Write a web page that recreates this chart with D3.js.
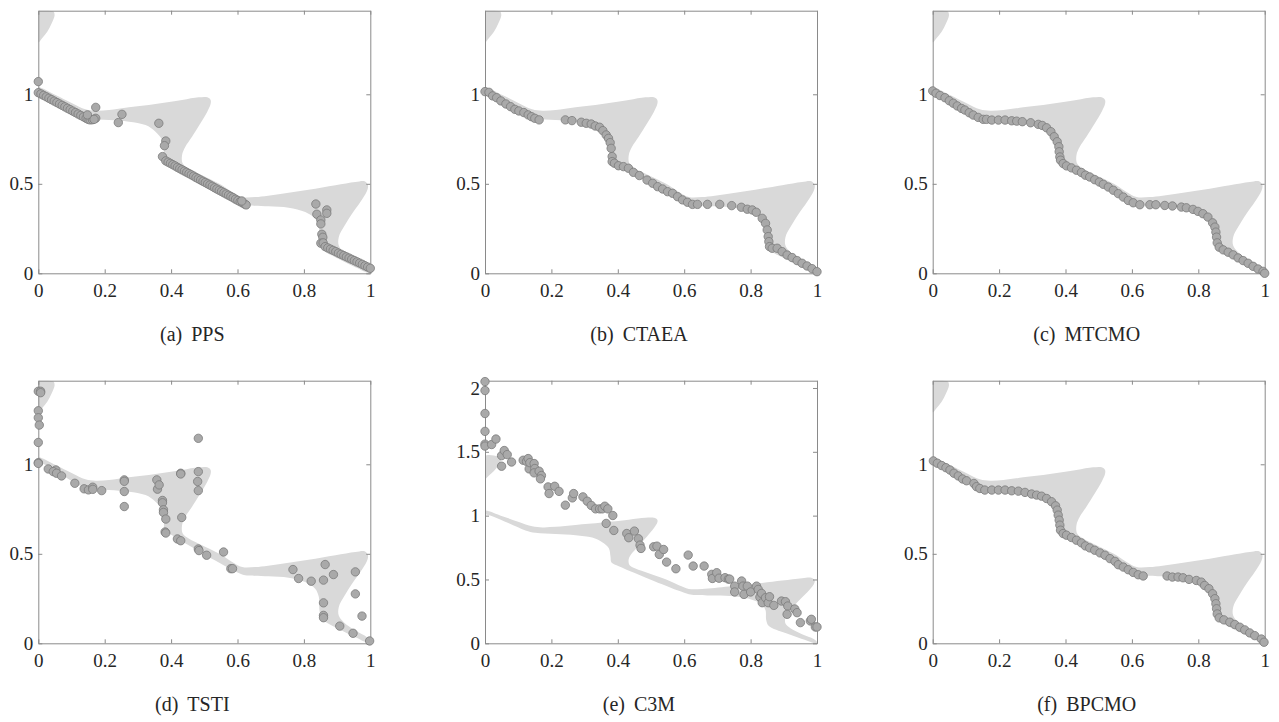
<!DOCTYPE html>
<meta charset="utf-8">
<style>
body { margin: 0; background: #fff; }
svg text { font-family: "Liberation Serif", "Times New Roman", Times, Tinos, "DejaVu Serif", serif; fill: #262626; }
.axis path, .axis line { stroke: #8a8a8a; stroke-width: 1px; }
.region { fill: #d9d9d9; stroke: none; }
.pts circle { fill: #a9a9a9; stroke: #7b7b7b; stroke-width: 0.8px; }
.caption { font-size: 20px; }
</style>
<svg width="1279" height="722"></svg>
<script src="https://d3js.org/d3.v7.min.js"></script>
<script>

// feasible region (same problem in every panel)
var regionMain = [
  [0, 1.039], [0.052, 0.996], [0.102, 0.950], [0.142, 0.916], [0.173, 0.908], [0.213, 0.912],
  [0.273, 0.927], [0.353, 0.946], [0.433, 0.968], [0.483, 0.983], [0.509, 0.983], [0.519, 0.968],
  [0.519, 0.946], [0.509, 0.903], [0.488, 0.837], [0.463, 0.763], [0.443, 0.707], [0.433, 0.660],
  [0.435, 0.613], [0.453, 0.585], [0.493, 0.548], [0.544, 0.501], [0.584, 0.454], [0.614, 0.426],
  [0.654, 0.426], [0.734, 0.445], [0.814, 0.467], [0.895, 0.492], [0.955, 0.510], [0.983, 0.514],
  [0.993, 0.492], [0.990, 0.460], [0.970, 0.398], [0.945, 0.333], [0.920, 0.258], [0.905, 0.202],
  [0.905, 0.155], [0.920, 0.118], [0.955, 0.071], [0.990, 0.034], [1.0, 0.011],
  [1.0, 0.0], [0.955, 0.034], [0.905, 0.080], [0.855, 0.136], [0.847, 0.183], [0.845, 0.258],
  [0.834, 0.305], [0.804, 0.342], [0.754, 0.366], [0.694, 0.374], [0.634, 0.379], [0.614, 0.385],
  [0.584, 0.411], [0.514, 0.482], [0.453, 0.548], [0.403, 0.604], [0.381, 0.632], [0.378, 0.679],
  [0.373, 0.744], [0.353, 0.791], [0.323, 0.828], [0.273, 0.847], [0.213, 0.856], [0.152, 0.865],
  [0.122, 0.884], [0.072, 0.940], [0.022, 0.996], [0, 1.015]
];
var regionCorner = [
  [0, 1.29], [0.012, 1.315], [0.027, 1.35], [0.040, 1.395], [0.049, 1.44], [0.046, 1.462],
  [0.038, 1.467], [0, 1.467]
];

var labels = ["(a)", "(b)", "(c)", "(d)", "(e)", "(f)"];
var algorithms = ["PPS", "CTAEA", "MTCMO", "TSTI", "C3M", "BPCMO"];
var yMax = [1.467, 1.467, 1.467, 1.467, 2.057, 1.467];
var xTicks = [0, 0.2, 0.4, 0.6, 0.8, 1];
var yTicks = [0, 0.5, 1];
var yTicksC3M = [0, 0.5, 1, 1.5, 2];

var ppsPts = [
  [0, 1.071], [0, 1.009], [0.008, 1.002], [0.016, 0.994], [0.024, 0.986], [0.032, 0.978],
  [0.040, 0.970], [0.048, 0.962], [0.056, 0.954], [0.064, 0.946], [0.072, 0.938], [0.080, 0.930],
  [0.088, 0.922], [0.096, 0.914], [0.104, 0.906], [0.112, 0.898], [0.120, 0.890], [0.128, 0.882],
  [0.136, 0.874], [0.144, 0.866], [0.150, 0.860], [0.156, 0.857], [0.163, 0.858],
  [0.148, 0.885], [0.173, 0.927], [0.173, 0.866], [0.168, 0.860],
  [0.241, 0.842], [0.252, 0.888], [0.363, 0.838], [0.384, 0.739], [0.380, 0.713], [0.374, 0.652],
  [0.384, 0.628], [0.391, 0.621], [0.398, 0.614], [0.405, 0.607], [0.412, 0.600], [0.419, 0.592],
  [0.426, 0.585], [0.433, 0.578], [0.440, 0.571], [0.447, 0.564], [0.454, 0.557], [0.461, 0.550],
  [0.468, 0.543], [0.475, 0.535], [0.482, 0.528], [0.489, 0.521], [0.496, 0.514], [0.503, 0.507],
  [0.510, 0.500], [0.517, 0.493], [0.524, 0.486], [0.531, 0.478], [0.538, 0.471], [0.545, 0.464],
  [0.552, 0.457], [0.559, 0.450], [0.566, 0.443], [0.573, 0.436], [0.580, 0.429], [0.587, 0.422],
  [0.594, 0.414], [0.601, 0.407], [0.608, 0.400], [0.615, 0.393], [0.622, 0.386], [0.626, 0.382],
  [0.613, 0.404],
  [0.836, 0.387], [0.839, 0.330], [0.851, 0.298], [0.851, 0.276], [0.869, 0.354], [0.869, 0.335],
  [0.854, 0.218], [0.857, 0.201], [0.851, 0.168], [0.858, 0.170], [0.864, 0.149],
  [0.872, 0.142], [0.880, 0.135], [0.888, 0.128], [0.896, 0.121], [0.904, 0.113], [0.912, 0.106],
  [0.920, 0.099], [0.928, 0.092], [0.936, 0.085], [0.944, 0.078], [0.952, 0.071], [0.960, 0.064],
  [0.968, 0.057], [0.976, 0.050], [0.984, 0.042], [0.992, 0.035], [1.0, 0.028]
];

var ctaeaPts = [
  [0, 1.015], [0.012, 1.011], [0.023, 0.991], [0.035, 0.981], [0.048, 0.963], [0.063, 0.946],
  [0.077, 0.931], [0.090, 0.916], [0.102, 0.907], [0.117, 0.898], [0.130, 0.885], [0.140, 0.875],
  [0.150, 0.866], [0.163, 0.857], [0.242, 0.857], [0.262, 0.853], [0.290, 0.844], [0.305, 0.838],
  [0.320, 0.834], [0.332, 0.823], [0.345, 0.816], [0.355, 0.797], [0.365, 0.773], [0.372, 0.754],
  [0.377, 0.730], [0.380, 0.698], [0.383, 0.652], [0.383, 0.624], [0.390, 0.615], [0.402, 0.601],
  [0.417, 0.596], [0.432, 0.587], [0.447, 0.564], [0.465, 0.546], [0.488, 0.521], [0.505, 0.503],
  [0.520, 0.484], [0.535, 0.471], [0.550, 0.456], [0.565, 0.447], [0.580, 0.428], [0.595, 0.410],
  [0.610, 0.397], [0.625, 0.385], [0.640, 0.385], [0.670, 0.385], [0.707, 0.385], [0.743, 0.378],
  [0.772, 0.369], [0.790, 0.358], [0.805, 0.354], [0.817, 0.341], [0.835, 0.307], [0.845, 0.279],
  [0.850, 0.242], [0.853, 0.205], [0.855, 0.177], [0.857, 0.149], [0.865, 0.140], [0.880, 0.140],
  [0.895, 0.121], [0.910, 0.102], [0.925, 0.088], [0.940, 0.071], [0.955, 0.056], [0.970, 0.041],
  [0.985, 0.026], [1.000, 0.009]
];

var mtcmoPts = [
  [0, 1.019], [0.010, 1.006], [0.022, 0.993], [0.037, 0.981], [0.050, 0.964], [0.062, 0.950],
  [0.074, 0.935], [0.087, 0.921], [0.097, 0.912], [0.110, 0.897], [0.122, 0.884], [0.137, 0.871],
  [0.152, 0.860], [0.162, 0.860], [0.178, 0.856], [0.198, 0.856], [0.218, 0.856], [0.238, 0.852],
  [0.253, 0.850], [0.270, 0.847], [0.295, 0.841], [0.318, 0.832], [0.330, 0.826], [0.343, 0.813],
  [0.356, 0.791], [0.366, 0.763], [0.375, 0.735], [0.380, 0.707], [0.381, 0.679], [0.383, 0.650],
  [0.385, 0.632], [0.393, 0.613], [0.403, 0.600], [0.418, 0.589], [0.433, 0.576], [0.448, 0.563],
  [0.460, 0.548], [0.473, 0.538], [0.488, 0.523], [0.502, 0.510], [0.514, 0.497], [0.529, 0.482],
  [0.544, 0.464], [0.559, 0.445], [0.574, 0.426], [0.589, 0.407], [0.604, 0.394], [0.624, 0.383],
  [0.654, 0.383], [0.672, 0.383], [0.699, 0.379], [0.722, 0.376], [0.749, 0.370], [0.764, 0.366],
  [0.784, 0.357], [0.799, 0.346], [0.814, 0.333], [0.829, 0.314], [0.843, 0.282], [0.850, 0.258],
  [0.853, 0.230], [0.855, 0.202], [0.857, 0.170], [0.863, 0.146], [0.875, 0.131], [0.890, 0.118],
  [0.905, 0.103], [0.920, 0.086], [0.935, 0.071], [0.950, 0.056], [0.965, 0.039], [0.980, 0.024],
  [0.995, 0.011], [1.000, 0.000]
];

var tstiPts = [
  [0, 1.408], [0.007, 1.408], [0.007, 1.400], [0, 1.299], [0, 1.260], [0.003, 1.219], [0, 1.122],
  [0, 1.009], [0, 1.005], [0.030, 0.974], [0.053, 0.968], [0.045, 0.959], [0.055, 0.950],
  [0.070, 0.935], [0.110, 0.894], [0.138, 0.863], [0.151, 0.857], [0.164, 0.872], [0.164, 0.860],
  [0.191, 0.853], [0.259, 0.913], [0.259, 0.905], [0.259, 0.848], [0.259, 0.764], [0.357, 0.913],
  [0.359, 0.861], [0.364, 0.885], [0.374, 0.798], [0.374, 0.785], [0.377, 0.746], [0.377, 0.731],
  [0.384, 0.694], [0.382, 0.622], [0.384, 0.616], [0.429, 0.950], [0.429, 0.946], [0.432, 0.703],
  [0.419, 0.583], [0.429, 0.573], [0.482, 1.145], [0.482, 0.959], [0.480, 0.904], [0.482, 0.853],
  [0.482, 0.527], [0.484, 0.518], [0.507, 0.492], [0.558, 0.510], [0.580, 0.417], [0.585, 0.417],
  [0.767, 0.412], [0.784, 0.362], [0.822, 0.347], [0.864, 0.440], [0.859, 0.353], [0.889, 0.384],
  [0.955, 0.399], [0.955, 0.276], [0.859, 0.226], [0.859, 0.156], [0.859, 0.143], [0.908, 0.096],
  [0.948, 0.056], [0.975, 0.152], [0.998, 0.013]
];

var c3mPts = [
  [0, 2.050], [0, 1.980], [0, 1.800], [0, 1.660], [0, 1.560], [0, 1.545], [0.020, 1.557],
  [0.033, 1.600], [0.050, 1.470], [0.058, 1.510], [0.050, 1.387], [0.067, 1.478], [0.080, 1.420],
  [0.115, 1.434], [0.125, 1.425], [0.130, 1.447], [0.133, 1.366], [0.135, 1.415], [0.148, 1.408],
  [0.150, 1.369], [0.148, 1.335], [0.163, 1.348], [0.170, 1.314], [0.167, 1.288], [0.190, 1.225],
  [0.193, 1.173], [0.210, 1.230], [0.223, 1.190], [0.242, 1.082], [0.263, 1.139], [0.267, 1.173],
  [0.295, 1.147], [0.308, 1.113], [0.320, 1.080], [0.333, 1.053], [0.345, 1.053], [0.353, 1.053],
  [0.361, 1.074], [0.370, 1.053], [0.365, 0.939], [0.385, 1.001], [0.388, 0.884], [0.427, 0.860],
  [0.433, 0.827], [0.450, 0.879], [0.462, 0.819], [0.467, 0.769], [0.470, 0.743], [0.508, 0.756],
  [0.518, 0.761], [0.525, 0.696], [0.538, 0.735], [0.547, 0.636], [0.575, 0.584], [0.612, 0.691],
  [0.627, 0.605], [0.660, 0.605], [0.683, 0.540], [0.685, 0.508], [0.698, 0.553], [0.705, 0.510],
  [0.723, 0.514], [0.733, 0.503], [0.737, 0.503], [0.752, 0.448], [0.752, 0.402], [0.773, 0.488],
  [0.777, 0.448], [0.780, 0.383], [0.790, 0.448], [0.800, 0.402], [0.818, 0.448], [0.823, 0.422],
  [0.828, 0.362], [0.833, 0.391], [0.835, 0.318], [0.845, 0.357], [0.853, 0.318], [0.857, 0.365],
  [0.870, 0.297], [0.893, 0.331], [0.905, 0.326], [0.912, 0.292], [0.910, 0.227], [0.933, 0.269],
  [0.940, 0.240], [0.950, 0.162], [0.980, 0.175], [0.983, 0.188], [0.995, 0.128], [1.000, 0.128]
];

var bpcmoPts = [
  [0.002, 1.019], [0.014, 1.006], [0.027, 0.993], [0.040, 0.981], [0.052, 0.968], [0.064, 0.950],
  [0.077, 0.935], [0.090, 0.918], [0.102, 0.908], [0.124, 0.893], [0.132, 0.875], [0.142, 0.865],
  [0.157, 0.856], [0.178, 0.856], [0.198, 0.856], [0.218, 0.856], [0.238, 0.852], [0.258, 0.850],
  [0.278, 0.843], [0.298, 0.834], [0.313, 0.828], [0.328, 0.822], [0.343, 0.809], [0.358, 0.791],
  [0.370, 0.768], [0.375, 0.744], [0.378, 0.716], [0.381, 0.688], [0.383, 0.660], [0.385, 0.632],
  [0.393, 0.613], [0.403, 0.604], [0.418, 0.591], [0.433, 0.576], [0.448, 0.561], [0.460, 0.544],
  [0.473, 0.533], [0.488, 0.520], [0.504, 0.505], [0.519, 0.492], [0.534, 0.473], [0.549, 0.458],
  [0.559, 0.439], [0.574, 0.426], [0.589, 0.411], [0.604, 0.396], [0.619, 0.383], [0.634, 0.376],
  [0.706, 0.376], [0.722, 0.370], [0.739, 0.370], [0.754, 0.366], [0.772, 0.357], [0.794, 0.351],
  [0.809, 0.342], [0.819, 0.323], [0.832, 0.305], [0.843, 0.277], [0.850, 0.249], [0.853, 0.221],
  [0.855, 0.193], [0.857, 0.164], [0.863, 0.142], [0.877, 0.131], [0.895, 0.118], [0.910, 0.105],
  [0.925, 0.090], [0.940, 0.075], [0.955, 0.058], [0.970, 0.043], [0.990, 0.024], [0.998, 0.006]
];

var allPts = [ppsPts, ctaeaPts, mtcmoPts, tstiPts, c3mPts, bpcmoPts];

var svg = d3.select("svg");
var W = 332, H = 262.6;
var colX = [38.3, 485, 932.7], rowY = [10.7, 380.7];
var serif = '"Liberation Serif", "Times New Roman", Times, Tinos, "DejaVu Serif", serif';

algorithms.forEach(function(name, i) {
  var left = colX[i % 3], top = rowY[Math.floor(i / 3)];
  var g = svg.append("g").attr("transform", "translate(" + left + "," + top + ")");

  var x = d3.scaleLinear().domain([0, 1]).range([0, W]);
  var y = d3.scaleLinear().domain([0, yMax[i]]).range([H, 0]);
  var yt = name == "C3M" ? yTicksC3M : yTicks;

  g.append("clipPath").attr("id", "clip" + i)
    .append("rect").attr("width", W).attr("height", H);

  var line = d3.line()
      .x(function(d) { return x(d[0]); })
      .y(function(d) { return y(d[1]); })
      .curve(d3.curveCatmullRomClosed.alpha(0.5));

  var reg = g.append("g").attr("clip-path", "url(#clip" + i + ")");
  reg.append("path").attr("class", "region").attr("d", line(regionMain));
  reg.append("path").attr("class", "region").attr("d", line(regionCorner));

  // box with inward ticks (labels only bottom/left)
  var axes = g.append("g").attr("font-family", serif).attr("font-size", 19);
  axes.append("g").attr("class", "axis").attr("transform", "translate(0," + H + ")")
    .call(d3.axisBottom(x).tickValues(xTicks).tickSizeInner(-4).tickSizeOuter(0)
      .tickPadding(10).tickFormat(d3.format("~g")));
  axes.append("g").attr("class", "axis")
    .call(d3.axisLeft(y).tickValues(yt).tickSizeInner(-4).tickSizeOuter(0)
      .tickPadding(5).tickFormat(d3.format("~g")));
  axes.append("g").attr("class", "axis")
    .call(d3.axisTop(x).tickValues(xTicks).tickSizeInner(-4).tickSizeOuter(0).tickFormat(""));
  axes.append("g").attr("class", "axis").attr("transform", "translate(" + W + ",0)")
    .call(d3.axisRight(y).tickValues(yt).tickSizeInner(-4).tickSizeOuter(0).tickFormat(""));
  axes.selectAll(".axis")
    .attr("font-family", serif).attr("font-size", 19);
  axes.selectAll(".tick text").attr("fill", "#262626");

  g.append("g").attr("class", "pts")
    .selectAll("circle")
    .data(allPts[i])
    .enter().append("circle")
      .attr("cx", function(d) { return x(d[0]); })
      .attr("cy", function(d) { return y(d[1]); })
      .attr("r", 4.2);

  var cap = g.append("text").attr("class", "caption")
      .attr("x", W / 2 - 12).attr("y", H + 68)
      .attr("text-anchor", "middle");
  cap.append("tspan").text(labels[i]);
  cap.append("tspan").attr("dx", 9).text(name);
});

</script>
